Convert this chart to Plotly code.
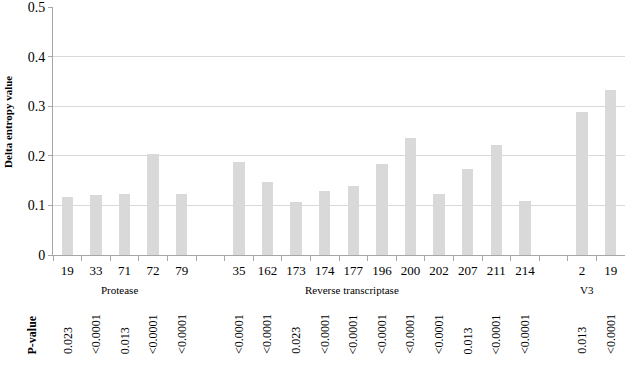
import plotly.graph_objects as go

# ---- data ----
protease_pos = ["19", "33", "71", "72", "79"]
protease_vals = [0.116, 0.120, 0.124, 0.203, 0.123]
protease_p = ["0.023", "<0.0001", "0.013", "<0.0001", "<0.0001"]

rt_pos = ["35", "162", "173", "174", "177", "196", "200", "202", "207", "211", "214"]
rt_vals = [0.188, 0.148, 0.107, 0.129, 0.139, 0.184, 0.235, 0.123, 0.174, 0.221, 0.108]
rt_p = ["<0.0001", "<0.0001", "0.023", "<0.0001", "<0.0001", "<0.0001",
        "<0.0001", "<0.0001", "0.013", "<0.0001", "<0.0001"]

v3_pos = ["2", "19"]
v3_vals = [0.288, 0.332]
v3_p = ["0.013", "<0.0001"]

group_names = ["Protease", "Reverse transcriptase", "V3"]

y_ticks = [0, 0.1, 0.2, 0.3, 0.4, 0.5]
y_ticklabels = ["0", "0.1", "0.2", "0.3", "0.4", "0.5"]

# ---- assemble slots (one empty slot between groups) ----
groups = [(protease_pos, protease_vals, protease_p),
          (rt_pos, rt_vals, rt_p),
          (v3_pos, v3_vals, v3_p)]
xs, labels, vals, pvals = [], [], [], []
slot = 0
for gi, (pos, v, p) in enumerate(groups):
    for a, b, c in zip(pos, v, p):
        xs.append(slot)
        labels.append(a)
        vals.append(b)
        pvals.append(c)
        slot += 1
    if gi < len(groups) - 1:
        slot += 1
nslots = slot

FONT = "Liberation Serif"
fig = go.Figure()
fig.add_trace(go.Bar(x=xs, y=vals, width=0.4, marker=dict(color="#d9d9d9", line=dict(width=0)),
                     showlegend=False, hoverinfo="x+y"))

fig.update_layout(
    width=625, height=369,
    margin=dict(l=53, r=0, t=5, b=114),
    paper_bgcolor="white", plot_bgcolor="white",
    font=dict(family=FONT, color="black"),
    bargap=0,
)
fig.update_xaxes(
    range=[-0.5, nslots - 0.5],
    tickmode="array", tickvals=xs, ticktext=labels,
    ticks="", tickfont=dict(size=13, family=FONT, color="black"),
    ticklabelstandoff=3,
    showline=True, linecolor="#a6a6a6", linewidth=1,
    showgrid=False, zeroline=False,
    minor=dict(tickmode="array", tickvals=[i - 0.5 for i in range(nslots + 1)],
               ticks="outside", ticklen=5, tickcolor="#a6a6a6", tickwidth=1, showgrid=False),
)
fig.update_yaxes(
    range=[0, 0.5], tickmode="array", tickvals=y_ticks, ticktext=y_ticklabels,
    ticks="outside", ticklen=4, tickcolor="#a6a6a6",
    tickfont=dict(size=14, family=FONT, color="black"),
    ticklabeloverflow="allow",
    showline=True, linecolor="#a6a6a6", linewidth=1,
    showgrid=True, gridcolor="#d9d9d9", gridwidth=1,
    zeroline=False,
)

annotations = []
# p-values
for x, p in zip(xs, pvals):
    annotations.append(dict(x=x, y=-0.408, xref="x", yref="paper", text=p, showarrow=False,
                            textangle=-90, xanchor="center", yanchor="bottom",
                            font=dict(size=12, family=FONT, color="black")))
# group labels
group_x = [1.84, 9.95, 18.17]
for gx, name in zip(group_x, group_names):
    annotations.append(dict(x=gx, y=-0.14, xref="x", yref="paper", text=name, showarrow=False,
                            xanchor="center", yanchor="middle",
                            font=dict(size=11, family=FONT, color="black")))
annotations.append(dict(x=-0.037, y=-0.408, xref="paper", yref="paper", text="<b>P-value</b>",
                        showarrow=False, textangle=-90, xanchor="center", yanchor="bottom",
                        font=dict(size=12, family=FONT, color="black")))
annotations.append(dict(x=-0.079, y=0.536, xref="paper", yref="paper", text="<b>Delta entropy value</b>",
                        showarrow=False, textangle=-90, xanchor="center", yanchor="middle",
                        font=dict(size=11, family=FONT, color="black")))
fig.update_layout(annotations=annotations)

fig.write_html("out.html", config={"displayModeBar": False},
               post_script="document.body.style.margin='0px';")
